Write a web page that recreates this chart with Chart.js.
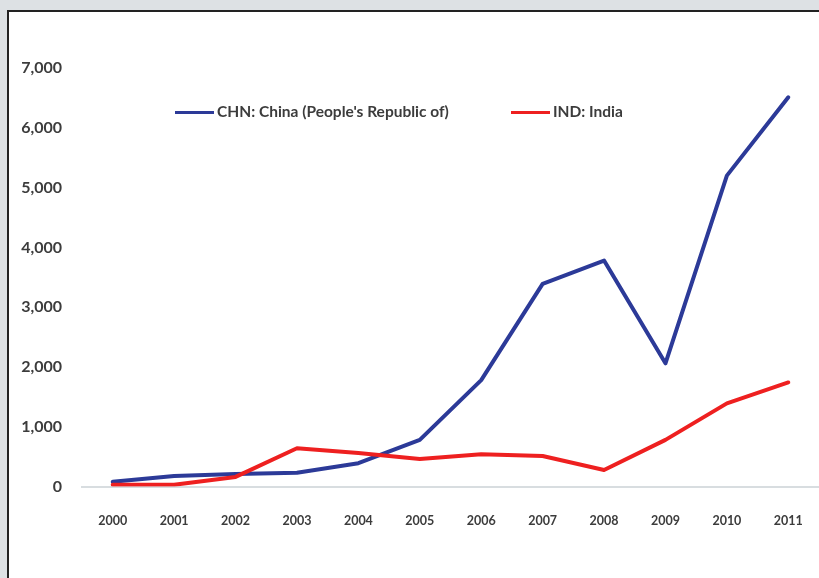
<!DOCTYPE html>
<html lang="en">
<head>
    <meta charset="UTF-8">
    <title>CHN vs IND</title>
    <script src="https://cdn.jsdelivr.net/npm/chart.js"></script>
    <style>
        html, body {
            margin: 0;
            overflow: hidden;
        }
        body {
            background-color: #dde1e4;
            width: 819px;
            height: 578px;
            position: relative;
            font-family: Lato, Arial, sans-serif;
        }
        .frame {
            position: absolute;
            left: 7px;
            top: 10px;
            width: 830px;
            height: 580px;
            background-color: #ffffff;
            border-left: 2px solid #222;
            border-top: 2px solid #222;
        }
        #chart {
            position: absolute;
            left: 0;
            top: 0;
        }
        .legend-item {
            position: absolute;
            top: 101px;
            font-size: 15.5px;
            font-weight: bold;
            color: #3c3c3c;
            white-space: nowrap;
            line-height: 20px;
        }
        .legend-item span.swatch {
            display: inline-block;
            width: 39px;
            height: 3px;
            vertical-align: middle;
            margin-right: 3px;
            position: relative;
            top: -1px;
        }
    </style>
</head>
<body>
    <div class="frame"></div>
    <canvas id="chart" width="819" height="578"></canvas>
    <div class="legend-item" style="left:175px"><span class="swatch" style="background:#2c3a98"></span>CHN: China (People's Republic of)</div>
    <div class="legend-item" style="left:511px"><span class="swatch" style="background:#ee2020"></span>IND: India</div>
    <script>
        const years = ['2000', '2001', '2002', '2003', '2004', '2005', '2006', '2007', '2008', '2009', '2010', '2011'];
        const chnValues = [80, 175, 210, 230, 390, 780, 1780, 3390, 3780, 2060, 5200, 6510];
        const indValues = [30, 30, 160, 640, 560, 460, 540, 510, 275, 780, 1390, 1740];
        const yTicks = [0, 1000, 2000, 3000, 4000, 5000, 6000, 7000];

        const tickColor = '#3c3c3c';

        const ctx = document.getElementById('chart').getContext('2d');
        new Chart(ctx, {
            type: 'line',
            data: {
                labels: years,
                datasets: [{
                    label: "CHN: China (People's Republic of)",
                    data: chnValues,
                    borderColor: '#2c3a98',
                    borderWidth: 4,
                    pointRadius: 0,
                    tension: 0,
                    borderJoinStyle: 'round',
                    borderCapStyle: 'round',
                    order: 1
                }, {
                    label: 'IND: India',
                    data: indValues,
                    borderColor: '#ee2020',
                    borderWidth: 4,
                    pointRadius: 0,
                    tension: 0,
                    borderJoinStyle: 'round',
                    borderCapStyle: 'round',
                    order: 0
                }]
            },
            options: {
                responsive: false,
                animation: false,
                layout: { padding: { top: 68, left: 0, right: 0, bottom: 0 } },
                plugins: {
                    legend: { display: false },
                    tooltip: { enabled: false }
                },
                scales: {
                    x: {
                        offset: true,
                        // grid hidden, but tickLength still pushes labels down
                        grid: { display: false, drawTicks: true, tickLength: 25 },
                        border: { display: true, color: '#d8dde0', width: 2 },
                        ticks: {
                            color: tickColor,
                            padding: 2,
                            font: { family: 'Lato', size: 12.5, weight: 'bold' },
                            maxRotation: 0
                        },
                        afterFit: (scale) => { scale.height = 91.5; }
                    },
                    y: {
                        min: 0,
                        max: 7000,
                        grid: { display: false, drawTicks: false },
                        border: { display: false },
                        afterBuildTicks: (scale) => {
                            scale.ticks = yTicks.map(v => ({ value: v }));
                        },
                        ticks: {
                            color: tickColor,
                            padding: 20,
                            font: { family: 'Lato', size: 16, weight: 'bold' },
                            callback: (v) => Number(v).toLocaleString('en-US')
                        },
                        afterFit: (scale) => { scale.width = 82; }
                    }
                }
            }
        });
    </script>
</body>
</html>
